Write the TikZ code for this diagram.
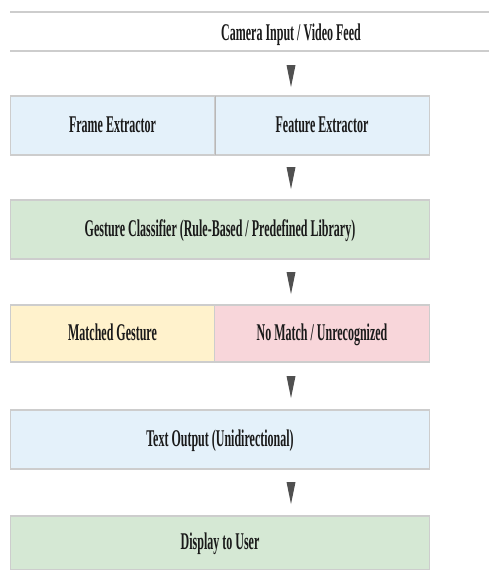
\documentclass[tikz,border=0pt]{standalone}
\usepackage{fontspec}
\setmainfont{Liberation Serif}[FakeStretch=0.5]
\definecolor{cellblue}{HTML}{E4F1FA}
\definecolor{cellgreen}{HTML}{D5E8D4}
\definecolor{cellyellow}{HTML}{FFF2CC}
\definecolor{cellpink}{HTML}{F8D6DA}
\definecolor{rulegray}{HTML}{CDCDCD}
\definecolor{arrowgray}{HTML}{505050}
\definecolor{textdark}{HTML}{1A1A1A}
\tikzset{
  lbl/.style={text=textdark, font=\fontsize{24}{26}\selectfont\bfseries},
  cell/.style={lbl, draw=rulegray, line width=1pt, minimum height=58pt, inner sep=0pt,
    anchor=north west, text height=13pt, text depth=0pt},
  hrule/.style={draw=rulegray, line width=2.5pt},
  divider/.style={draw=rulegray!90!black, line width=0.8pt},
  tri/.pic={\fill[arrowgray] (-4.5,-11) -- (4.5,-11) -- (3.5,-6) -- (0,11) -- (-3.5,-6) -- cycle;}
}
\begin{document}
\begin{tikzpicture}[x=1pt,y=-1pt]
\useasboundingbox (0,0) rectangle (489,570);
% top row
\coordinate (tl) at (10,12);
\coordinate (tr) at (489,12);
\coordinate (bl) at (10,51);
\coordinate (br) at (489,51);
\draw[hrule] (tl) -- (tr);
\draw[hrule] (bl) -- (br);
\node[lbl] (cam) at (291,35) {Camera Input / Video Feed};
\pic at (291,76) {tri};
% row 2
\node[cell, fill=cellblue, minimum width=204pt] (frame) at (10,96) {Frame Extractor};
\node[cell, fill=cellblue, minimum width=215pt] (feat) at (214,96) {Feature Extractor};
\draw[hrule] (frame.north west) -- (feat.north east);
\draw[rulegray, line width=2pt] (frame.south west) -- (feat.south east);
\draw[divider] (frame.north east) -- (frame.south east);
\pic at (291,178) {tri};
% row 3
\node[cell, fill=cellgreen, minimum width=419pt] (cls) at (10,200) {Gesture Classifier (Rule-Based / Predefined Library)};
\draw[hrule] (cls.north west) -- (cls.north east);
\draw[rulegray, line width=2pt] (cls.south west) -- (cls.south east);
\pic at (291,283) {tri};
% row 4
\node[cell, fill=cellyellow, minimum width=204pt, minimum height=56pt] (match) at (10,305) {Matched Gesture};
\node[cell, fill=cellpink, minimum width=215pt, minimum height=56pt] (nomatch) at (214,305) {No Match / Unrecognized};
\draw[hrule] (match.north west) -- (nomatch.north east);
\draw[rulegray, line width=2pt] (match.south west) -- (nomatch.south east);
\pic at (291,387) {tri};
% row 5
\node[cell, fill=cellblue, minimum width=419pt] (txt) at (10,410) {Text Output (Unidirectional)};
\draw[hrule] (txt.north west) -- (txt.north east);
\draw[rulegray, line width=2pt] (txt.south west) -- (txt.south east);
\pic at (291,493) {tri};
% row 6
\node[cell, fill=cellgreen, minimum width=419pt, minimum height=53pt] (disp) at (10,516) {Display to User};
\draw[hrule] (disp.north west) -- (disp.north east);
\draw[rulegray, line width=1.5pt] (disp.south west) -- (disp.south east);
\end{tikzpicture}
\end{document}
